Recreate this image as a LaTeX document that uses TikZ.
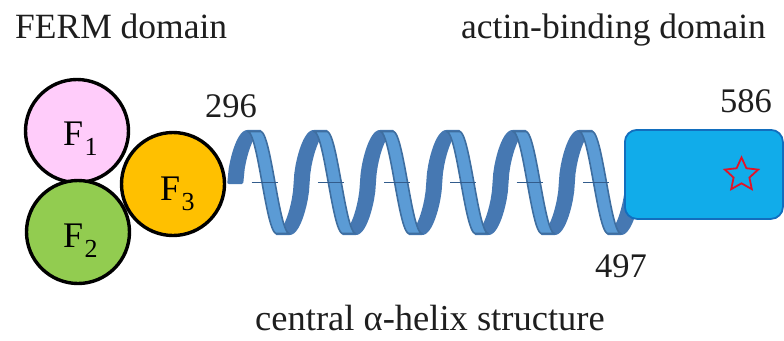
\documentclass[tikz,border=0pt]{standalone}
\usepackage{fontspec}
\setmainfont{Liberation Serif}
\newfontfamily\tnr{Liberation Serif}
\usetikzlibrary{shapes.geometric}
\definecolor{txt}{RGB}{30,30,30}
\definecolor{pinkF}{RGB}{255,204,250}
\definecolor{greenF}{RGB}{146,204,80}
\definecolor{orangeF}{RGB}{255,192,0}
\definecolor{helixlight}{RGB}{91,155,213}
\definecolor{helixedge}{RGB}{62,110,160}
\definecolor{helixdark}{RGB}{70,120,178}
\definecolor{axiscol}{RGB}{50,92,140}
\definecolor{boxfill}{RGB}{17,172,234}
\definecolor{boxedge}{RGB}{18,110,190}
\definecolor{starred}{RGB}{225,20,40}
\tikzset{
  fcirc/.style={circle, draw=black, line width=3.4pt, minimum size=103pt, inner sep=0pt},
  lbl/.style={anchor=base west, inner sep=0pt, text=txt, font=\tnr\fontsize{35.5}{40}\selectfont},
  num/.style={anchor=base west, inner sep=0pt, text=txt, font=\tnr\fontsize{34.5}{40}\selectfont},
  flbl/.style={anchor=base west, inner sep=0pt, text=black, font=\tnr\fontsize{36}{38}\selectfont},
  backribbon/.style={fill=helixdark, draw=helixdark, line width=3pt, line join=round},
  frontribbon/.style={fill=helixlight, draw=helixedge, line width=1.6pt, line join=round},
  axisseg/.style={draw=axiscol, line width=1.8pt},
  declare function={fl(\t)=sign(cos(\t))*pow(abs(cos(\t))+0.0001,0.6);},
}
\newcommand{\Fsub}[1]{F\hspace{1.5pt}\raisebox{-10pt}{\fontsize{26}{26}\selectfont #1}}
\begin{document}
\begin{tikzpicture}[x=1pt,y=-1pt]
\useasboundingbox[fill=white] (0,0) rectangle (784,340);
% helix
\def\yc{182.5}
\def\A{51}
\def\Ld{29}
\def\La{37.3}
\def\w{13}
% start piece (ascending quarter, dark)
\pgfmathsetmacro{\Sb}{247.5-\La}
\pgfmathsetmacro{\Ss}{247.5-\La/2}
\filldraw[backribbon] plot[domain=\Ss:247.5, samples=15] (\x,{\yc+\A*fl(180*(\x-\Sb)/\La)})
   -- plot[domain=247.5:\Ss, samples=15] ({\x+\w},{\yc+\A*fl(180*(\x-\Sb)/\La)}) -- cycle;
\foreach \k in {0,...,5}{
  \pgfmathsetmacro{\T}{247.5+66.3*\k}
  \pgfmathsetmacro{\B}{\T+\Ld}
  \pgfmathsetmacro{\Tn}{\B+\La}
  \pgfmathsetmacro{\Te}{\B+\La/2+2}
  \ifnum\k<5
    \filldraw[backribbon] plot[domain=\B:\Tn, samples=30] (\x,{\yc+\A*fl(180*(\x-\B)/\La)})
      -- plot[domain=\Tn:\B, samples=30] ({\x+\w},{\yc+\A*fl(180*(\x-\B)/\La)}) -- cycle;
  \else
    \filldraw[backribbon] plot[domain=\B:\Te, samples=20] (\x,{\yc+\A*fl(180*(\x-\B)/\La)})
      -- plot[domain=\Te:\B, samples=20] ({\x+\w},{\yc+\A*fl(180*(\x-\B)/\La)}) -- cycle;
  \fi
  \filldraw[frontribbon] plot[domain=\T:\B, samples=30] (\x,{\yc-\A*cos(180*(\x-\T)/\Ld)})
      -- plot[domain=\B:\T, samples=30] ({\x+\w},{\yc-\A*cos(180*(\x-\T)/\Ld)}) -- cycle;
  \coordinate (a\k) at ({\T+4},182.5);
  \coordinate (b\k) at ({\B+1},182.5);
  \draw[axisseg] (a\k) -- (b\k);
}
% actin-binding box
\node[draw=boxedge, fill=boxfill, line width=1.8pt, rounded corners=12pt,
      minimum width=158pt, minimum height=89pt, inner sep=0pt, anchor=north west]
      (abd) at (624,129) {};
\node[star, star points=5, star point ratio=2.1, draw=starred, line width=1.8pt,
      minimum size=35pt, inner sep=0pt] (star) at (741.5,175) {};
% FERM lobes
\node[fcirc, fill=pinkF]   (f1) at (77,131) {};
\node[fcirc, fill=greenF]  (f2) at (78,232) {};
\node[fcirc, fill=orangeF] (f3) at (173,184) {};
\node[flbl] (f1l) at (63,145) {\Fsub{1}};
\node[flbl] (f2l) at (63,247) {\Fsub{2}};
\node[flbl] (f3l) at (160,200) {\Fsub{3}};
% labels
\node[lbl] (ferm) at (15,38) {FERM domain};
\node[lbl] (actin) at (461,38) {actin-binding domain};
\node[num] (n296) at (205,117) {296};
\node[num] (n586) at (720,112) {586};
\node[num] (n497) at (595,277) {497};
\node[lbl, font=\tnr\fontsize{36.5}{40}\selectfont] (central) at (255,330) {central α-helix structure};
\end{tikzpicture}
\end{document}
